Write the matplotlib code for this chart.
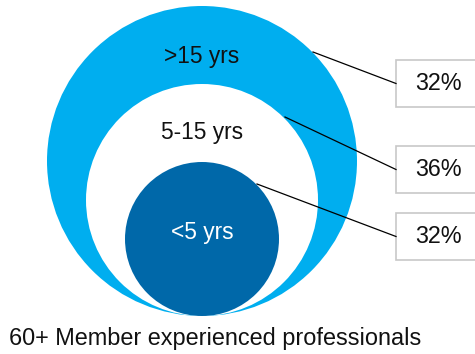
import matplotlib.pyplot as plt
from matplotlib.patches import Circle, Rectangle

# ===================================================
# Data
# ===================================================

labels = [">15 yrs", "5-15 yrs", "<5 yrs"]
shares = [32, 36, 32]
caption = "60+ Member experienced professionals"

# ===================================================
# Layout (pixels, y down)
# ===================================================

W, H = 475, 354
CX = 202
BOTTOM = 316
radii = [155, 116, 77]
fills = ["#00AEEF", "#FFFFFF", "#0068A9"]
text_colors = ["#111111", "#111111", "#FFFFFF"]
label_y = [56, 133, 233]

line_start = [(313, 52), (285, 117), (257, 184)]
box_y = [(60, 107), (146, 193), (213, 260)]
BOX_X = 396

plt.rcParams["font.family"] = ["Liberation Sans", "DejaVu Sans"]

fig = plt.figure(figsize=(W / 100, H / 100), dpi=100)
ax = fig.add_axes([0, 0, 1, 1])
ax.set_xlim(0, W)
ax.set_ylim(H, 0)
ax.set_aspect("equal")
ax.axis("off")

for r, fc in zip(radii, fills):
    ax.add_patch(Circle((CX, BOTTOM - r), r, facecolor=fc, edgecolor="none"))

for lab, y, c in zip(labels, label_y, text_colors):
    ax.text(CX, y, lab, ha="center", va="center", fontsize=16.4, color=c)

for (x0, y0), (top, bot), val in zip(line_start, box_y, shares):
    ymid = (top + bot) / 2
    ax.plot([x0, BOX_X], [y0, ymid], color="black", lw=0.9)
    ax.add_patch(Rectangle((BOX_X, top), 90, bot - top,
                           facecolor="white", edgecolor="#C8C8C8", lw=1.2))
    ax.text(438, ymid, f"{val}%", ha="center", va="center", fontsize=16.8, color="#111111")

ax.text(9, 339, caption, ha="left", va="center", fontsize=16.9, color="#111111")

fig.savefig("out.png", dpi=100)
